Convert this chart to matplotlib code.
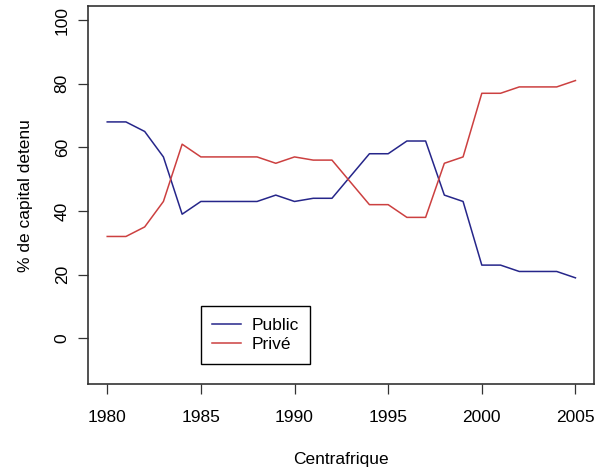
"""Part du capital public / privé, Centrafrique 1980-2005."""

import matplotlib

matplotlib.use("Agg")
import matplotlib.pyplot as plt

# data
years = list(range(1980, 2006))
public = [68, 68, 65, 57, 39, 43, 43, 43, 43, 45, 43, 44, 44,
          51, 58, 58, 62, 62, 45, 43, 23, 23, 21, 21, 21, 19]
prive = [32, 32, 35, 43, 61, 57, 57, 57, 57, 55, 57, 56, 56,
         49, 42, 42, 38, 38, 55, 57, 77, 77, 79, 79, 79, 81]
xticks = [1980, 1985, 1990, 1995, 2000, 2005]
yticks = [0, 20, 40, 60, 80, 100]

plt.rcParams["font.family"] = ["Liberation Sans", "DejaVu Sans"]

fig = plt.figure(figsize=(6.02, 4.69), dpi=100)
ax = fig.add_axes([0.147, 0.181, 0.840, 0.806])

ax.plot(years, public, color="#26268a", lw=1.1, label="Public")
ax.plot(years, prive, color="#cc4040", lw=1.1, label="Privé")

# R style 4% padding around data range (-10..100)
ax.set_xlim(1979, 2006)
ax.set_ylim(-14.4, 104.4)
ax.set_xticks(xticks)
ax.set_yticks(yticks)
ax.set_yticklabels([str(v) for v in yticks], rotation=90, va="center")

ax.tick_params(direction="out", length=7.5, width=0.9, color="#333333",
               labelsize=12.5)
ax.tick_params(axis="x", pad=11.5)
ax.tick_params(axis="y", pad=6)
for sp in ax.spines.values():
    sp.set_linewidth(1.2)
    sp.set_color("#333333")

ax.set_xlabel("Centrafrique", fontsize=12.5, labelpad=19)
ax.set_ylabel("% de capital detenu", fontsize=12.5, labelpad=16)

leg = ax.legend(loc="upper left", bbox_to_anchor=(1985, 10),
                bbox_transform=ax.transData, borderaxespad=0,
                fancybox=False, framealpha=1, edgecolor="black",
                fontsize=12.5, handlelength=1.65, handletextpad=0.6,
                labelspacing=0.25, borderpad=0.65)
leg.get_frame().set_linewidth(1.0)

fig.savefig("out.png", dpi=100)
